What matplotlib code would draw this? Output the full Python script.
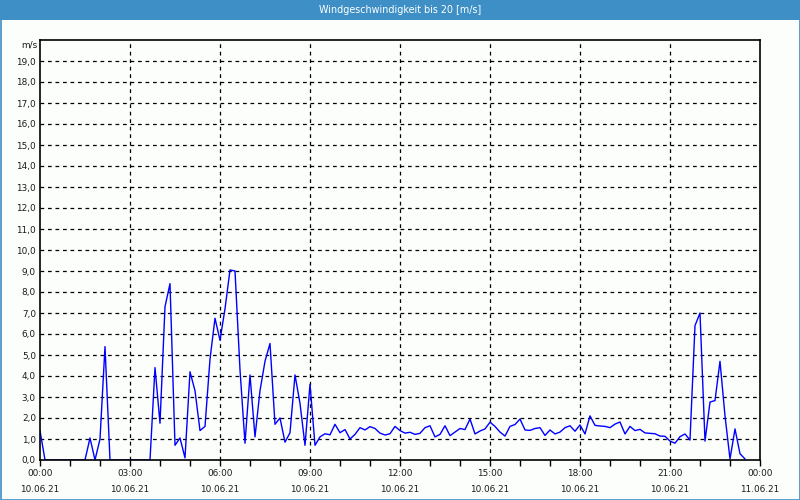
import matplotlib
matplotlib.use("Agg")
import matplotlib.pyplot as plt
import numpy as np
from matplotlib.patches import Rectangle

# wind speed samples every 10 minutes starting 10.06.21 00:00
step_minutes = 10
wind_speed = [
    1.4, 0.0, 0.0, 0.0, 0.0, 0.0, 0.0, 0.0, 0.0, 0.0,
    1.05, 0.0, 1.0, 5.4, 0.0, 0.0, 0.0, 0.0, 0.0, 0.0,
    0.0, 0.0, 0.0, 4.4, 1.75, 7.3, 8.4, 0.7, 1.05, 0.1,
    4.2, 3.3, 1.4, 1.6, 4.8, 6.75, 5.7, 7.2, 9.05, 9.0,
    4.3, 0.8, 4.05, 1.1, 3.3, 4.7, 5.55, 1.7, 2.0, 0.85,
    1.3, 4.05, 2.7, 0.7, 3.6, 0.7, 1.1, 1.25, 1.2, 1.7,
    1.3, 1.45, 1.0, 1.22, 1.54, 1.43, 1.59, 1.5, 1.28, 1.19,
    1.25, 1.6, 1.4, 1.28, 1.32, 1.22, 1.27, 1.54, 1.63, 1.1,
    1.22, 1.63, 1.16, 1.33, 1.5, 1.45, 1.95, 1.24, 1.38, 1.48,
    1.8, 1.6, 1.33, 1.14, 1.6, 1.69, 1.95, 1.43, 1.41, 1.5,
    1.54, 1.17, 1.43, 1.24, 1.33, 1.54, 1.63, 1.37, 1.67, 1.24,
    2.1, 1.65, 1.62, 1.6, 1.54, 1.71, 1.81, 1.24, 1.6, 1.4,
    1.46, 1.29, 1.27, 1.25, 1.14, 1.13, 0.9, 0.8, 1.11, 1.24,
    0.95, 6.4, 7.0, 0.9, 2.76, 2.83, 4.7, 2.1, 0.05, 1.48,
    0.3, 0.05,
]
hours = np.arange(len(wind_speed)) * step_minutes / 60.0

x_tick_hours = [0, 3, 6, 9, 12, 15, 18, 21, 24]
x_tick_times = ["00:00", "03:00", "06:00", "09:00", "12:00", "15:00", "18:00", "21:00", "00:00"]
x_tick_dates = ["10.06.21"] * 8 + ["11.06.21"]
y_ticks = list(range(0, 20))
y_tick_labels = [f"{v},0" for v in y_ticks]

title = "Windgeschwindigkeit bis 20 [m/s]"
unit = "m/s"

bg = "#fcfefc"
bar_blue = "#3d8fc6"
txt = "#1a1a1a"

fig = plt.figure(figsize=(8, 5), dpi=100, facecolor=bg)
ax = fig.add_axes([40/800, 1-460/500, 720/800, 420/500])
ax.set_facecolor(bg)

ax.plot(hours, wind_speed, color="#0000ff", lw=1.0, zorder=2)

ax.set_xlim(0, 24)
ax.set_ylim(0, 20)

ax.set_yticks(y_ticks)
ax.set_yticklabels(y_tick_labels)
ax.set_xticks(x_tick_hours)
ax.set_xticklabels([f"{t}\n{d}" for t, d in zip(x_tick_times, x_tick_dates)], linespacing=1.95)
ax.set_xticks(np.arange(0, 25, 1), minor=True)

ax.tick_params(axis="y", length=0, pad=3, labelsize=6.4, labelcolor=txt)
ax.tick_params(axis="x", which="major", length=4, width=1, pad=2.5, labelsize=6.4, labelcolor=txt, direction="out")
ax.tick_params(axis="x", which="minor", length=4, width=1, direction="out")

for y in range(1, 20):
    ax.axhline(y, color="black", lw=0.9, ls=(0, (3, 3)), zorder=1)
for x in x_tick_hours[1:-1]:
    ax.axvline(x, color="black", lw=0.9, ls=(0, (3, 3)), zorder=1)

for s in ax.spines.values():
    s.set_color("black")
    s.set_linewidth(1.2)
    s.set_zorder(3)

# title bar
fig.patches.append(Rectangle((0, 1-20/500), 1, 20/500, transform=fig.transFigure,
                             facecolor=bar_blue, edgecolor="none", zorder=0))
fig.text(0.5, 1-10/500, title, ha="center", va="center", color="white", fontsize=6.9)
# outer frame
fig.patches.append(Rectangle((0.5/800, 0.5/500), 799/800, 499/500, transform=fig.transFigure,
                             facecolor="none", edgecolor=bar_blue, lw=1.2, zorder=5))

fig.text(37/800, 1-45/500, unit, ha="right", va="center", color=txt, fontsize=6.4)

fig.savefig("out.png", dpi=100, facecolor=bg)
